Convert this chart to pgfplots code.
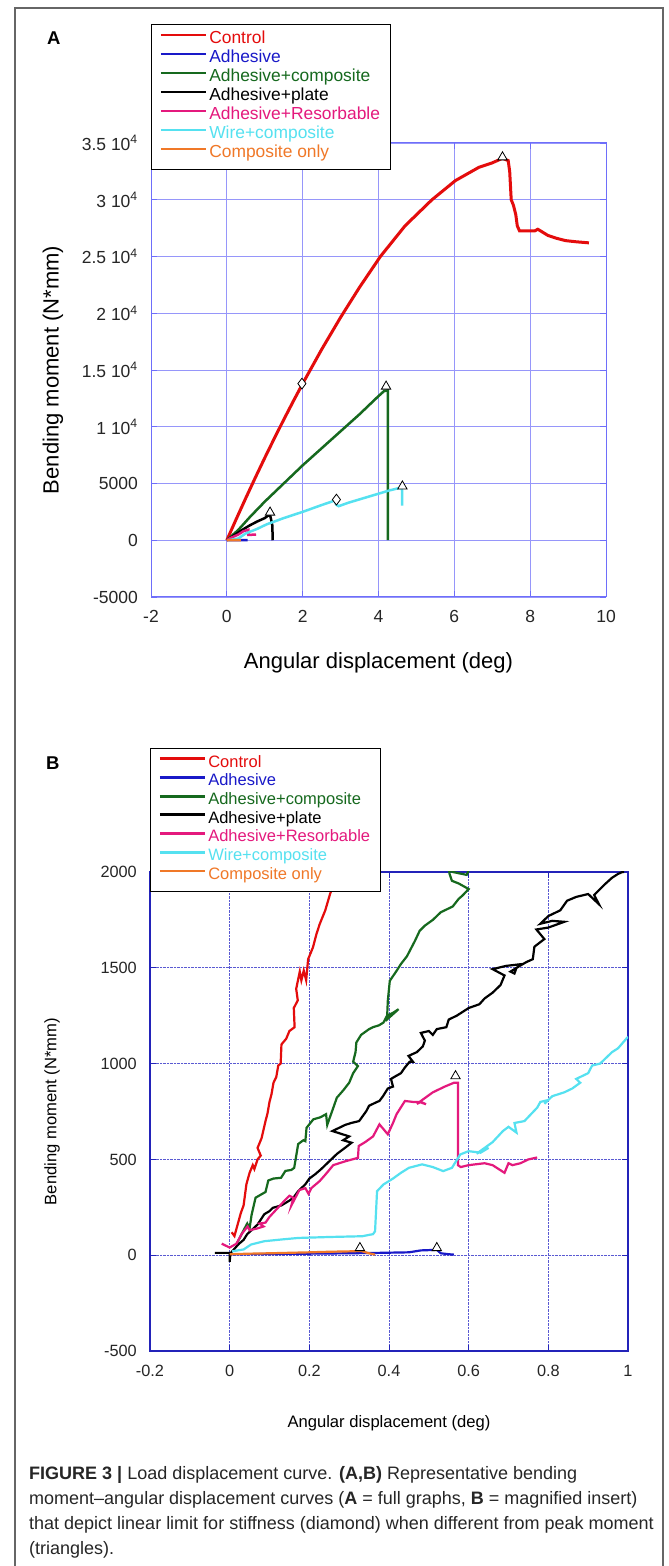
\documentclass[border=0pt]{standalone}
\usepackage{fontspec}
\setmainfont{Liberation Sans}
\usepackage{pgfplots}
\pgfplotsset{compat=1.18}
\definecolor{cRed}{RGB}{228,12,12}
\definecolor{cBlue}{RGB}{25,25,200}
\definecolor{cGreen}{RGB}{22,105,30}
\definecolor{cBlack}{RGB}{0,0,0}
\definecolor{cPink}{RGB}{228,25,125}
\definecolor{cCyan}{RGB}{85,225,240}
\definecolor{cOrange}{RGB}{240,120,40}
\definecolor{frameA}{RGB}{110,110,250}
\definecolor{gridA}{RGB}{150,150,250}
\definecolor{frameB}{RGB}{35,35,185}
\definecolor{gridB}{RGB}{90,90,210}
\pgfplotsset{
  common/.style={
    scale only axis, clip=true,
    scaled ticks=false,
    tick align=inside, major tick length=6pt,
    grid=major,
    legend cell align=left,
    legend image code/.code={\draw[##1, line width=2.8pt] (0pt,5pt) -- (45pt,5pt);},
  },
}
\begin{document}
\begin{tikzpicture}
\useasboundingbox (0,0) rectangle (669pt,1566pt);
\fill[white] (0,0) rectangle (669pt,1566pt);
\draw[black!60, line width=1.3pt] (15pt,-5pt) -- (15pt,1558pt) -- (663pt,1558pt) -- (663pt,-5pt);
\node[anchor=base west, font=\bfseries\fontsize{18.5}{20}\selectfont, inner sep=0pt] at (47pt,1521pt) {A};
\node[anchor=base west, font=\bfseries\fontsize{18.5}{20}\selectfont, inner sep=0pt] at (46pt,796pt) {B};

% ---------------- Panel A ----------------
\begin{axis}[common,
  at={(151pt,969pt)}, anchor=south west,
  width=455pt, height=454pt,
  xmin=-2, xmax=10, ymin=-5000, ymax=35000,
  xtick={-2,0,2,4,6,8,10}, xticklabels={-2,0,2,4,6,8,10},
  ytick={-5000,0,5000,10000,15000,20000,25000,30000,35000},
  yticklabels={-5000,0,5000,1 10\textsuperscript{4},1.5 10\textsuperscript{4},2 10\textsuperscript{4},2.5 10\textsuperscript{4},3 10\textsuperscript{4},3.5 10\textsuperscript{4}},
  axis line style={draw=frameA, line width=1pt},
  tick style={draw=frameA, line width=0.8pt},
  major grid style={draw=gridA, line width=0.7pt},
  every tick label/.append style={font=\fontsize{17.5}{18}\selectfont, inner sep=0pt, text=black!85},
  yticklabel style={xshift=-13pt},
  xticklabel style={yshift=-13pt},
  xlabel={Angular displacement (deg)},
  ylabel={Bending moment (N*mm)},
  xlabel style={at={(axis description cs:0.5,-0.1454)}, anchor=center, font=\fontsize{22}{24}\selectfont},
  ylabel style={at={(axis description cs:-0.2154,0.5)}, anchor=center, font=\fontsize{22}{24}\selectfont},
  legend style={at={(axis description cs:0,1.262)}, anchor=north west, draw=black, line width=1pt, fill=white,
    font=\fontsize{17.4}{19}\selectfont, inner xsep=8pt, inner ysep=6pt, row sep=0pt,
    nodes={inner xsep=2pt, inner ysep=0pt, text height=13pt, text depth=6pt}},
]
\addplot[cRed, line width=3pt] coordinates {
(0,0) (0.25,1880) (0.5,3716) (0.75,5508) (1.0,7255) (1.25,8958) (1.5,10616) (1.75,12230)
(2.0,13800) (2.5,16806) (3.0,19635) (3.5,22287) (4.05,25000) (4.7,27700) (5.41,30000) (6.03,31690)
(6.65,32860) (7.0,33250) (7.27,33650) (7.42,33450) (7.46,32500) (7.5,30000) (7.56,29500)
(7.62,28700) (7.66,27700) (7.72,27250) (8.0,27250) (8.12,27250) (8.2,27400) (8.3,27200)
(8.47,26850) (8.7,26600) (8.93,26400) (9.2,26300) (9.55,26200)};
\addlegendentry{\textcolor{cRed}{Control}}
\addplot[cBlue, line width=2.5pt] coordinates {(0,0) (0.3,10) (0.55,20)};
\addlegendentry{\textcolor{cBlue}{Adhesive}}
\addplot[cGreen, line width=2.5pt] coordinates {
(0,0) (0.3,900) (0.61,2050) (1,3400) (1.5,5000) (2,6600) (2.5,8100) (3,9600) (3.5,11100)
(4,12700) (4.15,13150) (4.25,13200) (4.25,0)};
\addlegendentry{\textcolor{cGreen}{Adhesive+composite}}
\addplot[cBlack, line width=2.5pt] coordinates {
(0,0) (0.2,450) (0.4,900) (0.6,1300) (0.8,1650) (1.0,1950) (1.10,2200) (1.15,2100) (1.2,1300) (1.21,0)};
\addlegendentry{\textcolor{cBlack}{Adhesive+plate}}
\addplot[cPink, line width=2.5pt] coordinates {
(0,0) (0.1,200) (0.3,500) (0.44,800) (0.57,920) (0.57,470) (0.77,500)};
\addlegendentry{\textcolor{cPink}{Adhesive+Resorbable}}
\addplot[cCyan, line width=2.5pt] coordinates {
(0.05,0) (0.3,150) (0.5,600) (0.8,1000) (1.05,1400) (1.5,1950) (2,2500) (2.5,3100) (2.85,3500)
(2.88,3150) (2.95,3000) (3.2,3300) (3.6,3700) (4.0,4100) (4.3,4400) (4.55,4600) (4.6,4650)
(4.62,4400) (4.62,3050)};
\addlegendentry{\textcolor{cCyan}{Wire+composite}}
\addplot[cOrange, line width=2.5pt] coordinates {(0,0) (0.2,8) (0.37,15)};
\addlegendentry{\textcolor{cOrange}{Composite only}}
\addplot[only marks, mark=triangle*, mark size=5.4pt, mark options={fill=white, draw=black, line width=0.8pt}, forget plot]
 coordinates {(7.27,33750) (4.2,13550) (1.14,2450) (4.63,4750)};
\addplot[only marks, mark=diamond*, mark size=5.4pt, mark options={fill=white, draw=black, line width=0.8pt}, forget plot]
 coordinates {(1.98,13800) (2.89,3580)};
\end{axis}

% ---------------- Panel B ----------------
\begin{axis}[common,
  at={(150pt,215pt)}, anchor=south west,
  width=478pt, height=479pt,
  xmin=-0.2, xmax=1, ymin=-500, ymax=2000,
  xtick={-0.2,0,0.2,0.4,0.6,0.8,1}, xticklabels={-0.2,0,0.2,0.4,0.6,0.8,1},
  ytick={-500,0,500,1000,1500,2000}, yticklabels={-500,0,500,1000,1500,2000},
  axis line style={draw=frameB, line width=1.3pt},
  tick style={draw=frameB, line width=1pt},
  major grid style={draw=gridB, densely dotted, line width=0.9pt},
  every tick label/.append style={font=\fontsize{16.3}{17}\selectfont, inner sep=0pt, text=black!85},
  yticklabel style={xshift=-13pt},
  xticklabel style={yshift=-14pt},
  xlabel={Angular displacement (deg)},
  ylabel={Bending moment (N*mm)},
  xlabel style={at={(axis description cs:0.5,-0.1503)}, anchor=center, font=\fontsize{16.6}{18}\selectfont},
  ylabel style={at={(axis description cs:-0.205,0.5)}, anchor=center, font=\fontsize{16.6}{18}\selectfont},
  legend style={at={(axis description cs:0,1.259)}, anchor=north west, draw=black, line width=1pt, fill=white,
    font=\fontsize{16.5}{18.7}\selectfont, inner xsep=8pt, inner ysep=6pt, row sep=0pt,
    nodes={inner xsep=2pt, inner ysep=0pt, text height=12.7pt, text depth=6pt}},
]
\addplot[cRed, line width=2.2pt] coordinates {
(0.005,120) (0.012,100) (0.02,160) (0.028,220) (0.035,260) (0.042,370) (0.05,430) (0.058,470)
(0.062,450) (0.07,500) (0.078,520) (0.07,560) (0.08,610) (0.09,700) (0.095,740) (0.1,800)
(0.105,840) (0.11,900) (0.117,930) (0.122,990) (0.128,1000) (0.13,1100) (0.142,1130) (0.15,1170)
(0.163,1190) (0.161,1290) (0.171,1330) (0.167,1390) (0.176,1480) (0.18,1435) (0.186,1485)
(0.192,1435) (0.197,1545) (0.209,1606) (0.218,1677) (0.226,1728) (0.24,1800) (0.252,1885)
(0.265,1960) (0.275,2050)};
\addlegendentry{\textcolor{cRed}{Control}}
\addplot[cBlue, line width=2.2pt] coordinates {
(0,5) (0.1,6) (0.2,8) (0.3,10) (0.37,12) (0.45,15) (0.48,25) (0.52,28) (0.53,10) (0.55,5) (0.563,3)};
\addlegendentry{\textcolor{cBlue}{Adhesive}}
\addplot[cGreen, line width=2.2pt] coordinates {
(0.017,57) (0.035,130) (0.044,165) (0.05,140) (0.055,210) (0.065,300) (0.09,330) (0.097,390)
(0.11,400) (0.129,404) (0.14,440) (0.155,445) (0.162,456) (0.172,580) (0.185,600) (0.19,595)
(0.193,665) (0.21,709) (0.228,720) (0.242,736) (0.245,680) (0.25,710) (0.262,780) (0.269,822)
(0.285,860) (0.3,900) (0.31,950) (0.322,987) (0.31,1010) (0.316,1060) (0.318,1110) (0.33,1150)
(0.35,1180) (0.36,1190) (0.375,1200) (0.386,1214) (0.395,1250) (0.41,1265) (0.424,1284)
(0.395,1230) (0.397,1327) (0.402,1432) (0.419,1484) (0.43,1520) (0.445,1560) (0.455,1600)
(0.465,1640) (0.477,1693) (0.49,1720) (0.51,1750) (0.53,1790) (0.56,1820) (0.575,1860)
(0.584,1876) (0.6,1911) (0.575,1940) (0.558,1954) (0.552,1990) (0.551,2010) (0.56,2000)
(0.595,1985) (0.6,2010) (0.61,2050)};
\addlegendentry{\textcolor{cGreen}{Adhesive+composite}}
\addplot[cBlack, line width=2.2pt] coordinates {
(-0.037,12) (-0.01,12) (0,12) (0,-35) (0.002,10) (0.022,57) (0.035,80) (0.044,110) (0.06,140)
(0.07,160) (0.087,214) (0.1,230) (0.108,247) (0.13,260) (0.15,285) (0.16,300) (0.172,334)
(0.19,370) (0.2,400) (0.215,423) (0.23,450) (0.25,490) (0.27,530) (0.29,561) (0.306,587)
(0.285,600) (0.3,620) (0.258,648) (0.27,660) (0.29,680) (0.305,690) (0.325,700) (0.343,752)
(0.35,780) (0.37,800) (0.376,805) (0.385,830) (0.397,870) (0.41,880) (0.405,920) (0.413,930)
(0.43,950) (0.44,980) (0.452,1010) (0.46,1010) (0.449,1040) (0.47,1060) (0.485,1090) (0.49,1120)
(0.48,1160) (0.5,1170) (0.51,1150) (0.52,1180) (0.544,1190) (0.55,1230) (0.57,1250) (0.6,1290)
(0.627,1310) (0.64,1340) (0.66,1370) (0.68,1410) (0.69,1460) (0.66,1493) (0.694,1510)
(0.736,1520) (0.705,1480) (0.715,1470) (0.72,1500) (0.745,1530) (0.761,1545) (0.765,1610)
(0.79,1650) (0.77,1700) (0.8,1710) (0.84,1740) (0.81,1745) (0.78,1730) (0.8,1770) (0.83,1800)
(0.847,1850) (0.87,1870) (0.9,1885) (0.927,1832) (0.915,1880) (0.943,1938) (0.96,1970)
(0.975,1990) (0.986,2000) (0.99,2000)};
\addlegendentry{\textcolor{cBlack}{Adhesive+plate}}
\addplot[cPink, line width=2.2pt] coordinates {
(-0.02,60) (0,40) (0.017,60) (0.03,110) (0.045,150) (0.05,130) (0.07,140) (0.085,150)
(0.075,165) (0.09,170) (0.1,200) (0.129,265) (0.14,290) (0.15,310) (0.16,300) (0.155,260)
(0.165,300) (0.175,340) (0.19,350) (0.198,320) (0.205,350) (0.226,387) (0.24,420) (0.26,470)
(0.29,490) (0.322,508) (0.324,570) (0.34,590) (0.36,620) (0.376,683) (0.397,631) (0.41,690)
(0.419,736) (0.44,805) (0.46,800) (0.476,800) (0.493,788) (0.48,800) (0.47,790) (0.49,820)
(0.51,850) (0.54,880) (0.563,900) (0.573,900) (0.573,470) (0.58,460) (0.6,470) (0.64,480)
(0.66,470) (0.69,430) (0.7,480) (0.71,470) (0.73,480) (0.75,500) (0.772,510)};
\addlegendentry{\textcolor{cPink}{Adhesive+Resorbable}}
\addplot[cCyan, line width=2.2pt] coordinates {
(0.006,20) (0.02,25) (0.035,30) (0.054,56) (0.087,73) (0.13,82) (0.172,90) (0.25,95) (0.333,99)
(0.36,110) (0.365,125) (0.37,334) (0.386,369) (0.41,400) (0.43,430) (0.45,456) (0.483,474)
(0.51,460) (0.536,439) (0.558,456) (0.579,526) (0.6,543) (0.63,535) (0.65,560) (0.62,530)
(0.64,560) (0.66,590) (0.686,648) (0.7,670) (0.72,640) (0.715,690) (0.74,700) (0.772,770)
(0.78,800) (0.8,810) (0.79,790) (0.81,830) (0.84,850) (0.86,870) (0.88,900) (0.87,920) (0.9,950)
(0.91,990) (0.93,1000) (0.95,1040) (0.96,1060) (0.975,1080) (1.0,1140)};
\addlegendentry{\textcolor{cCyan}{Wire+composite}}
\addplot[cOrange, line width=2.2pt] coordinates {
(0,5) (0.05,8) (0.1,10) (0.2,15) (0.25,18) (0.3,20) (0.33,22) (0.35,10) (0.365,3)};
\addlegendentry{\textcolor{cOrange}{Composite only}}
\addplot[only marks, mark=triangle*, mark size=5.4pt, mark options={fill=white, draw=black, line width=0.8pt}, forget plot]
 coordinates {(0.567,935) (0.52,38) (0.327,38)};
\end{axis}

% ---------------- Caption ----------------
\begin{scope}[every node/.style={anchor=base west, inner sep=0pt, font=\fontsize{18}{22}\selectfont, text=black!85}]
\node at (29pt,86pt) {\textbf{FIGURE 3 |} Load displacement curve. \textbf{(A,B)} Representative bending};
\node at (29pt,61pt) {moment–angular displacement curves (\textbf{A} = full graphs, \textbf{B} = magnified insert)};
\node at (29pt,36pt) {that depict linear limit for stiffness (diamond) when different from peak moment};
\node at (29pt,11pt) {(triangles).};
\end{scope}
\end{tikzpicture}
\end{document}
